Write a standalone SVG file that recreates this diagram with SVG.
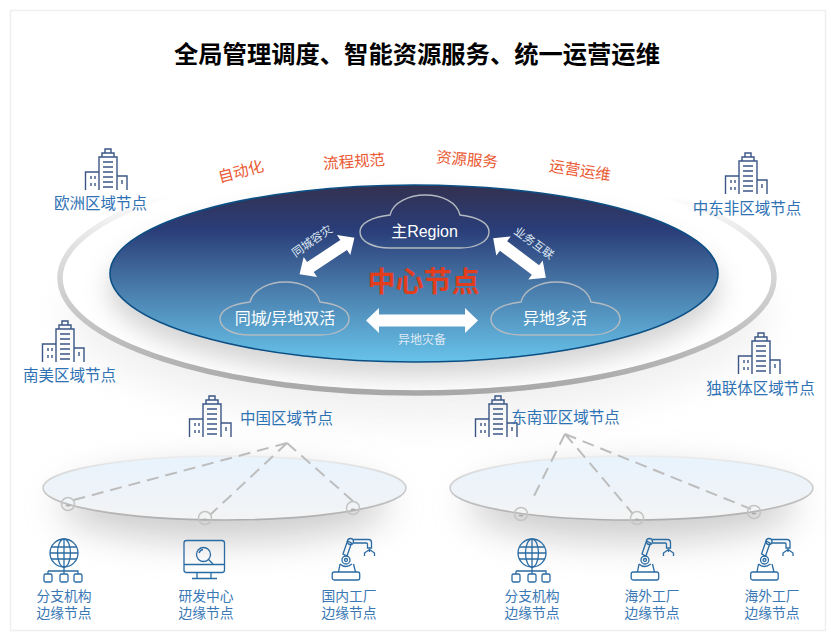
<svg xmlns="http://www.w3.org/2000/svg" width="831" height="636" viewBox="0 0 831 636">
<style>
text{font-family:"Liberation Sans","Noto Sans CJK SC",sans-serif;text-anchor:middle}
.title{font-size:24.300px;font-weight:700;fill:#000}
.region{font-size:15.500px;fill:#2f72b4}
.edge{font-size:13.800px;fill:#3a78b5}
.top{font-size:15.500px;fill:#ea5a34}
.cloudt{font-size:16px;fill:#fff}
.small{fill:#dfe9f3}
.ic{fill:none;stroke:#3a5685;stroke-width:1.400}
.ig{fill:none;stroke:#2a6ba3;stroke-width:1.300}
.cl{fill:none;stroke:#b3bac0;stroke-width:1.400}
.dash{fill:none;stroke:#bdbdbd;stroke-width:2;stroke-dasharray:12 7}
.ring{fill:none;stroke:#c4c4c4;stroke-width:1.500}
.arrow{fill:#fff}
.disc{fill:url(#edgeFill);stroke:url(#edgeStroke);stroke-width:1.600}
</style>
<defs>
<linearGradient id="mainFill" x1="0" y1="0" x2="0" y2="1">
<stop offset="0" stop-color="#333150"/><stop offset=".25" stop-color="#2a3d78"/><stop offset=".6" stop-color="#4a7ead"/><stop offset="1" stop-color="#67c3ea"/>
</linearGradient>
<linearGradient id="ringStroke" x1="0" y1="0" x2="0" y2="1">
<stop offset="0" stop-color="#fff"/><stop offset=".14" stop-color="#fff"/><stop offset=".35" stop-color="#e2e2e2"/><stop offset=".65" stop-color="#c8c8c8"/><stop offset="1" stop-color="#a8a8a8"/>
</linearGradient>
<linearGradient id="edgeFill" x1="0" y1="0" x2="0" y2="1">
<stop offset="0" stop-color="#e8f3fd"/><stop offset=".5" stop-color="#edf3f9"/><stop offset="1" stop-color="#f4f4f4"/>
</linearGradient>
<linearGradient id="edgeStroke" x1="0" y1="0" x2="0" y2="1">
<stop offset="0" stop-color="#ececec"/><stop offset="1" stop-color="#aeaeae"/>
</linearGradient>
<filter id="b12" x="-20%" y="-60%" width="140%" height="220%"><feGaussianBlur stdDeviation="12"/></filter>
<filter id="b16" x="-20%" y="-60%" width="140%" height="220%"><feGaussianBlur stdDeviation="18"/></filter>
<symbol id="bld" width="44" height="44" viewBox="0 0 44 44" overflow="visible">
<path class="ic" d="M.5 42V24H14M14 42V9H32V42M17 9V5H29V9M20 5V1H26V5M32 28H42V42M6 28v3M10 28v3M6 35v3M10 35v3M37 32v4M18 14H28M18 19H28M18 24H28M18 29H28M18 34H28M18 39H28"/>
</symbol>
<symbol id="globe" width="44" height="44" viewBox="0 0 44 44" overflow="visible">
<g class="ig"><circle cx="21" cy="15" r="14"/><ellipse cx="21" cy="15" rx="6.500" ry="14"/><path d="M21 1V36M8 9H34M7 15H35M8 21H34M5 33H35V36M5 33V36"/>
<rect x="1" y="36" width="8" height="8" rx="1.500"/><rect x="17" y="36" width="8" height="8" rx="1.500"/><rect x="31" y="36" width="8" height="8" rx="1.500"/></g>
</symbol>
<symbol id="robot" width="44" height="44" viewBox="0 0 44 44" overflow="visible">
<g class="ig"><rect x=".7" y="34" width="27.500" height="8" rx="2"/><path d="M7 34L8.500 26M22 26L24 34M8.500 26Q14 31 20.500 26"/><circle cx="14.500" cy="22" r="4"/><circle cx="14.500" cy="22" r="1.500"/><path d="M11.500 16L16 3L20 5L15.500 18Z"/><circle cx="19" cy="3.500" r="3"/><path d="M22 1.500H37Q40 1.500 40 4.500V10H36V6Q36 5 35 5H22"/><path d="M33 18V15L38 11.500L43 15V18M38 11.500V14"/></g>
</symbol>
<symbol id="cloud" width="130" height="54" viewBox="0 0 130 54" overflow="visible">
<path class="cl" d="M30 20C33 7 50 0 65 0C82 0 97 7 100 20C118 22 129 28 129 37C129 47 115 53 100 53H30C14 53 0 47 0 37C0 28 12 22 30 20Z"/>
</symbol>
<symbol id="pin" width="16" height="16" viewBox="0 0 16 16" overflow="visible">
<circle class="ring" cx="8" cy="8" r="6.500"/><ellipse cx="8" cy="9.500" rx="2.500" ry="1" fill="#adadad"/>
</symbol>
</defs>

<rect width="831" height="636" fill="#fff"/>
<rect x="10.500" y="10.500" width="815" height="620" fill="#fff" stroke="#efefef" stroke-width="1.500"/>
<text class="title" x="417" y="62.500">全局管理调度、智能资源服务、统一运营运维</text>

<g id="ring">
<ellipse cx="418" cy="315" rx="350" ry="105" fill="#dcdcdc" opacity=".4" filter="url(#b16)"/>
<ellipse cx="417" cy="278" rx="357" ry="115" fill="#fff" stroke="url(#ringStroke)" stroke-width="5.500"/>
<ellipse cx="414" cy="289" rx="306" ry="88" fill="#9a9a9a" opacity=".42" filter="url(#b12)"/>
</g>

<g id="edge-shadows">
<ellipse cx="224" cy="505" rx="165" ry="36" fill="#9c9c9c" opacity=".5" filter="url(#b16)"/>
<ellipse cx="632" cy="505" rx="165" ry="36" fill="#9c9c9c" opacity=".5" filter="url(#b16)"/>
</g>

<g id="center-node">
<ellipse cx="414" cy="273.500" rx="304" ry="88.500" fill="url(#mainFill)" stroke="#0b4f85" stroke-width="1.600"/>
<text x="423.500" y="291.500" style="font-size:28px;font-weight:700;fill:#e23d1c">中心节点</text>
</g>
<g id="cloud-main"><use href="#cloud" x="360" y="195"/><text class="cloudt" x="424.500" y="237">主Region</text></g>
<g id="cloud-dual"><use href="#cloud" x="220" y="282"/><text class="cloudt" x="285" y="324">同城/异地双活</text></g>
<g id="cloud-multi"><use href="#cloud" x="491" y="282"/><text class="cloudt" x="555" y="324">异地多活</text></g>

<g id="labels-top">
<text class="top" x="241" y="177" transform="rotate(-15 241 172)">自动化</text>
<text class="top" x="354" y="167" transform="rotate(-4 354 161)">流程规范</text>
<text class="top" x="467" y="165" transform="rotate(5 467 160)">资源服务</text>
<text class="top" x="580" y="176" transform="rotate(9 580 171)">运营运维</text>
</g>

<g id="region-europe"><use href="#bld" x="85" y="148"/><text class="region" x="100.500" y="209">欧洲区域节点</text></g>
<g id="region-samerica"><use href="#bld" x="42" y="320"/><text class="region" x="69.500" y="381">南美区域节点</text></g>
<g id="region-mea"><use href="#bld" x="725" y="152"/><text class="region" x="747" y="214">中东非区域节点</text></g>
<g id="region-cis"><use href="#bld" x="738" y="332"/><text class="region" x="760.500" y="394">独联体区域节点</text></g>
<g id="region-china"><use href="#bld" x="189" y="395"/><text class="region" x="286.500" y="424">中国区域节点</text></g>
<g id="region-sea"><use href="#bld" x="475" y="395"/><text class="region" x="565.500" y="423">东南亚区域节点</text></g>

<g id="disc-china"><ellipse class="disc" cx="224.500" cy="488" rx="181.500" ry="32"/></g>
<g id="disc-sea"><ellipse class="disc" cx="631.500" cy="488" rx="181.500" ry="32"/></g>

<g id="connectors">
<polygon class="arrow" transform="translate(327 256) rotate(-33.700)" points="-33,0 -20,-12 -20,-6 20,-6 20,-12 33,0 20,12 20,6 -20,6 -20,12"/>
<polygon class="arrow" transform="translate(519.500 258) rotate(37)" points="-33,0 -20,-12 -20,-6 20,-6 20,-12 33,0 20,12 20,6 -20,6 -20,12"/>
<polygon class="arrow" transform="translate(422 320.500)" points="-56,0 -43,-12.500 -43,-6 43,-6 43,-12.500 56,0 43,12.500 43,6 -43,6 -43,12.500"/>
<path class="dash" d="M287 443L70 501M287 443L210 515M287 443L354 502"/>
<path class="dash" d="M565 434L534 496M565 434L633 514M565 434L751 509"/>
</g>
<text class="small" x="312" y="245" transform="rotate(-35 312 241)" style="font-size:11.500px">同城容灾</text>
<text class="small" x="534" y="247" transform="rotate(36 534 243)" style="font-size:11.500px">业务互联</text>
<text class="small" x="422" y="344" style="font-size:12px">异地灾备</text>

<g id="pins">
<use href="#pin" x="60" y="496"/><use href="#pin" x="197" y="510"/><use href="#pin" x="345" y="500"/>
<use href="#pin" x="513" y="506"/><use href="#pin" x="629" y="510"/><use href="#pin" x="746" y="504"/>
</g>

<g id="edge-branch-1"><use href="#globe" x="43" y="538"/><text class="edge" x="64" y="601">分支机构</text><text class="edge" x="64" y="618">边缘节点</text></g>
<g id="edge-rd"><g class="ig"><rect x="184" y="540.500" width="40.500" height="32" rx="2.500"/><path d="M184 564.500H224.500M197 572.500V578M211 572.500V578M192 578.500H217"/><circle cx="203.500" cy="554.500" r="7"/><path d="M208.500 559.500L213 564M199 553Q200 550 203 549.500"/></g><text class="edge" x="206" y="601">研发中心</text><text class="edge" x="206" y="618">边缘节点</text></g>
<g id="edge-factory-cn"><use href="#robot" x="331.500" y="538"/><text class="edge" x="349" y="601">国内工厂</text><text class="edge" x="349" y="618">边缘节点</text></g>
<g id="edge-branch-2"><use href="#globe" x="511" y="538"/><text class="edge" x="532" y="601">分支机构</text><text class="edge" x="532" y="618">边缘节点</text></g>
<g id="edge-factory-1"><use href="#robot" x="630.500" y="538"/><text class="edge" x="652" y="601">海外工厂</text><text class="edge" x="652" y="618">边缘节点</text></g>
<g id="edge-factory-2"><use href="#robot" x="750" y="538"/><text class="edge" x="772" y="601">海外工厂</text><text class="edge" x="772" y="618">边缘节点</text></g>
</svg>
